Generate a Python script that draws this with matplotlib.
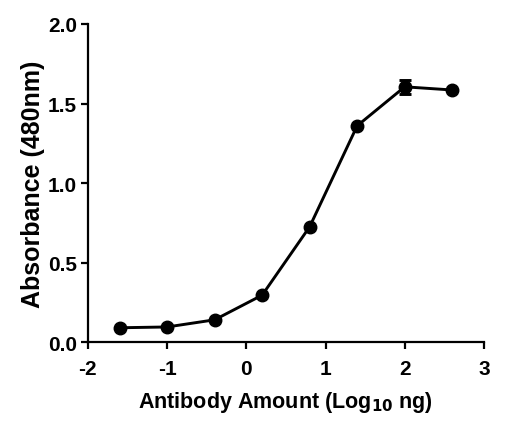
import numpy as np
import matplotlib.pyplot as plt

plt.rcParams['font.family'] = ['Liberation Sans', 'DejaVu Sans']
plt.rcParams['font.weight'] = 'bold'
plt.rcParams['axes.unicode_minus'] = False

# log10 antibody amount (ng) and absorbance at 480 nm
log_amount = [-1.6, -1.0, -0.4, 0.2, 0.8, 1.4, 2.0, 2.6]
absorbance = [0.09, 0.095, 0.14, 0.295, 0.725, 1.36, 1.605, 1.585]
abs_err = [0.0, 0.0, 0.0, 0.0, 0.0, 0.0, 0.045, 0.0]

fig = plt.figure(figsize=(5.11, 4.31), dpi=100)
ax = fig.add_axes([0.172, 0.204, 0.775, 0.738])

ax.errorbar(log_amount, absorbance, yerr=abs_err, fmt='-o', color='k',
            lw=2.1, ms=9, capsize=4, capthick=2.1, elinewidth=2.1)

ax.set_xlim(-2, 3)
ax.set_ylim(0, 2.0)
ax.set_xticks(np.arange(-2, 4, 1))
ax.set_yticks([0.0, 0.5, 1.0, 1.5, 2.0])
ax.set_yticklabels(['0.0', '0.5', '1.0', '1.5', '2.0'])

for side in ['top', 'right']:
    ax.spines[side].set_visible(False)
for side in ['left', 'bottom']:
    ax.spines[side].set_linewidth(1.6)
ax.tick_params(width=1.6, length=5, labelsize=15)
ax.tick_params(axis='x', pad=7)
ax.tick_params(axis='y', pad=3)
for lab in ax.get_xticklabels() + ax.get_yticklabels():
    lab.set_fontweight('bold')

ax.set_xlabel('Antibody Amount (Log$_{\\mathbf{10}}$ ng)', fontsize=15.5, fontweight='bold', labelpad=8)
ax.set_ylabel('Absorbance (480nm)', fontsize=18, fontweight='bold', labelpad=2)

fig.savefig('out.png', dpi=100)
